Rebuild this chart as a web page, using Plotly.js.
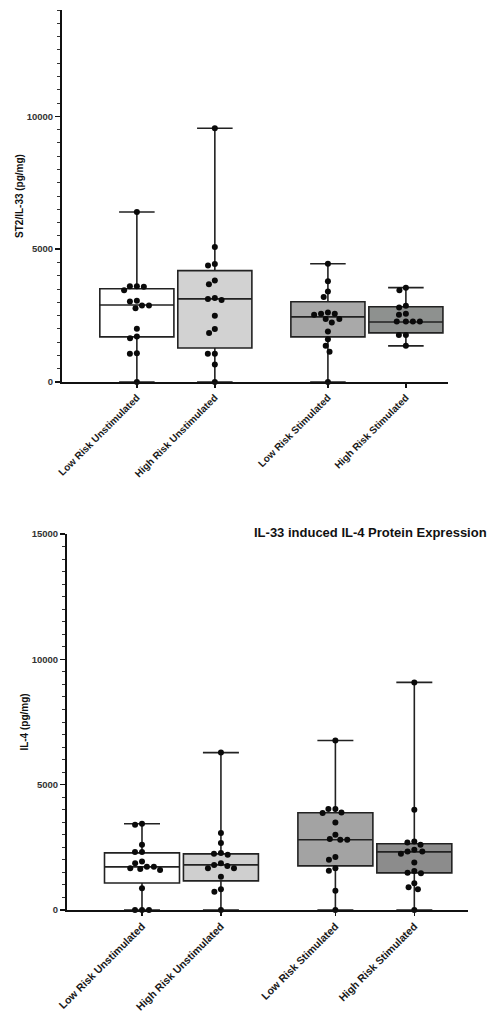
<!DOCTYPE html>
<html>
<head>
<meta charset="utf-8">
<script src="https://cdn.plot.ly/plotly-3.0.1.min.js"></script>
<style>
  html, body { margin: 0; padding: 0; background: #ffffff; }
  #chart { width: 494px; height: 1012px; }
</style>
</head>
<body>
<div id="chart"></div>
<script>
// ---------------- DATA ----------------
const categories = ['Low Risk Unstimulated', 'High Risk Unstimulated', 'Low Risk Stimulated', 'High Risk Stimulated'];

// Top panel: ST2/IL-33 (pg/mg) – individual samples
const st2LowUnstim  = [6400, 3600, 3600, 3580, 3450, 3060, 3030, 2880, 2880, 2780, 2000, 1710, 1650, 1080, 1060, 0];
const st2HighUnstim = [9550, 5080, 4440, 4380, 3820, 3680, 3160, 3120, 3090, 2490, 1990, 1840, 1060, 1060, 660, 0];
const st2LowStim    = [4450, 3790, 3410, 3200, 2620, 2570, 2570, 2530, 2370, 2370, 2240, 1900, 1610, 1360, 1140, 0];
const st2HighStim   = [3550, 3450, 2870, 2800, 2570, 2530, 2280, 2280, 2280, 2280, 1770, 1770, 1360];

// Top panel box summaries (per category)
const st2Q1     = [1700, 1280, 1700, 1850];
const st2Median = [2900, 3130, 2450, 2260];
const st2Q3     = [3510, 4190, 3020, 2830];
const st2Min    = [0, 0, 0, 1360];
const st2Max    = [6400, 9550, 4450, 3550];

// Bottom panel: IL-4 (pg/mg) – individual samples
const il4LowUnstim  = [3440, 3400, 2600, 2310, 2310, 1930, 1870, 1730, 1730, 1670, 1640, 1600, 870, 0, 0, 0];
const il4HighUnstim = [6280, 3070, 2670, 2270, 2240, 2200, 1870, 1800, 1760, 1670, 1670, 1330, 830, 730, 0];
const il4LowStim    = [6760, 4030, 4030, 3890, 3870, 3490, 3000, 2830, 2800, 2800, 2110, 2000, 1670, 1570, 770, 0];
const il4HighStim   = [9080, 4000, 2730, 2690, 2600, 2400, 2330, 2330, 2240, 1890, 1560, 1490, 1470, 1070, 910, 830, 0];

// Bottom panel box summaries
const il4Q1     = [1080, 1160, 1760, 1480];
const il4Median = [1720, 1800, 2800, 2320];
const il4Q3     = [2280, 2240, 3880, 2640];
const il4Min    = [0, 0, 0, 0];
const il4Max    = [3440, 6280, 6760, 9080];

const yTicksTop = [0, 5000, 10000];
const yTicksBottom = [0, 5000, 10000, 15000];

// ---------------- LAYOUT CONSTANTS ----------------
const W = 494, H = 1012;
const slots = [1, 2, 3.45, 4.45];          // x slot of each category (gap between groups)
const boxFills = ['#ffffff', '#d2d2d2', '#a9a9a9', '#8e918f'];
const boxFillsBottom = ['#ffffff', '#cfcfcf', '#a3a3a3', '#8c8c8c'];
const lineCol = '#222222';
const fontFam = '"Liberation Sans", Arial, sans-serif';

const panelTop = { xdom: [62 / W, 448 / W], ydom: [(H - 382) / H, (H - 10) / H], xr: [0.04, 4.99], yr: [0, 14000] };
const panelBot = { xdom: [67 / W, 468 / W], ydom: [(H - 910) / H, (H - 534) / H], xr: [0.05, 5.13], yr: [0, 15000] };

// beeswarm offsets computed from pixel scales
function swarm(values, center, panel, diam) {
  const pxX = (panel.xdom[1] - panel.xdom[0]) * W / (panel.xr[1] - panel.xr[0]);
  const pxY = (panel.ydom[1] - panel.ydom[0]) * H / (panel.yr[1] - panel.yr[0]);
  const order = values.map((v, i) => i).sort((a, b) => values[b] - values[a]);
  const placed = [];
  const xs = new Array(values.length);
  order.forEach(i => {
    const yp = values[i] * pxY;
    const forbidden = [];
    placed.forEach(p => {
      const dy = Math.abs(p.y - yp);
      if (dy < diam) {
        const dx = Math.sqrt(diam * diam - dy * dy);
        forbidden.push([p.x - dx, p.x + dx]);
      }
    });
    const cands = [0];
    forbidden.forEach(f => { cands.push(f[0]); cands.push(f[1]); });
    cands.sort((a, b) => Math.abs(a) - Math.abs(b) || a - b);
    let chosen = 0;
    for (const c of cands) {
      if (!forbidden.some(f => c > f[0] + 1e-6 && c < f[1] - 1e-6)) { chosen = c; break; }
    }
    placed.push({ x: chosen, y: yp });
    xs[i] = center + chosen / pxX;
  });
  return xs;
}

function boxTraces(q1, med, q3, lo, hi, fills, xa, ya) {
  return categories.map((c, i) => ({
    type: 'box', name: c, x: [slots[i]], q1: [q1[i]], median: [med[i]], q3: [q3[i]],
    lowerfence: [lo[i]], upperfence: [hi[i]],
    width: 0.95, whiskerwidth: 0.48, boxpoints: false,
    fillcolor: fills[i], line: { color: lineCol, width: 1.6 },
    xaxis: xa, yaxis: ya, showlegend: false, hoverinfo: 'skip'
  }));
}

function pointTrace(groups, panel, xa, ya) {
  const xs = [], ys = [];
  groups.forEach((g, i) => {
    const sx = swarm(g, slots[i], panel, 7);
    g.forEach((v, j) => { xs.push(sx[j]); ys.push(v); });
  });
  return {
    type: 'scatter', mode: 'markers', x: xs, y: ys, xaxis: xa, yaxis: ya,
    marker: { color: '#0a0a0a', size: 6 }, showlegend: false, hoverinfo: 'skip', cliponaxis: false
  };
}

const data = [
  ...boxTraces(st2Q1, st2Median, st2Q3, st2Min, st2Max, boxFills, 'x', 'y'),
  pointTrace([st2LowUnstim, st2HighUnstim, st2LowStim, st2HighStim], panelTop, 'x', 'y'),
  ...boxTraces(il4Q1, il4Median, il4Q3, il4Min, il4Max, boxFillsBottom, 'x2', 'y2'),
  pointTrace([il4LowUnstim, il4HighUnstim, il4LowStim, il4HighStim], panelBot, 'x2', 'y2')
];

function xAxis(panel, anchor, fsize) {
  return {
    domain: panel.xdom, range: panel.xr, anchor: anchor,
    showline: true, linewidth: 2, linecolor: '#111', zeroline: false, showgrid: false,
    ticks: 'outside', ticklen: 4, tickwidth: 1.5, tickcolor: '#111',
    tickmode: 'array', tickvals: slots, ticktext: categories, tickangle: -45,
    tickfont: { family: fontFam, size: fsize, color: '#1a1a1a', weight: 'bold' },
    automargin: false, fixedrange: true
  };
}
function yAxis(panel, anchor, ticks, title) {
  return {
    domain: panel.ydom, range: panel.yr, anchor: anchor,
    showline: true, linewidth: 2, linecolor: '#111', zeroline: false, showgrid: false,
    ticks: 'outside', ticklen: 5, tickwidth: 1.5, tickcolor: '#111',
    tickmode: 'array', tickvals: ticks, ticktext: ticks.map(String),
    minor: { dtick: 500, ticks: 'outside', ticklen: 3, tickwidth: 1, tickcolor: '#333' },
    tickfont: { family: fontFam, size: 9.5, color: '#333', weight: 'bold' },
    title: { text: title, font: { family: fontFam, size: 10, color: '#111', weight: 'bold' }, standoff: 1 },
    automargin: false, fixedrange: true
  };
}

const layout = {
  width: W, height: H,
  margin: { l: 0, r: 0, t: 0, b: 0 },
  paper_bgcolor: '#ffffff', plot_bgcolor: 'rgba(0,0,0,0)',
  showlegend: false,
  title: {
    text: 'IL-33 induced IL-4 Protein Expression',
    font: { family: fontFam, size: 13, color: '#111', weight: 'bold' },
    xref: 'container', yref: 'container', x: 254 / W, xanchor: 'left', y: 1 - 532 / H, yanchor: 'middle'
  },
  xaxis: xAxis(panelTop, 'y', 10),
  yaxis: yAxis(panelTop, 'x', yTicksTop, 'ST2/IL-33 (pg/mg)'),
  xaxis2: xAxis(panelBot, 'y2', 10.6),
  yaxis2: yAxis(panelBot, 'x2', yTicksBottom, 'IL-4 (pg/mg)')
};

Plotly.newPlot('chart', data, layout, { displayModeBar: false, staticPlot: true });
</script>
</body>
</html>
